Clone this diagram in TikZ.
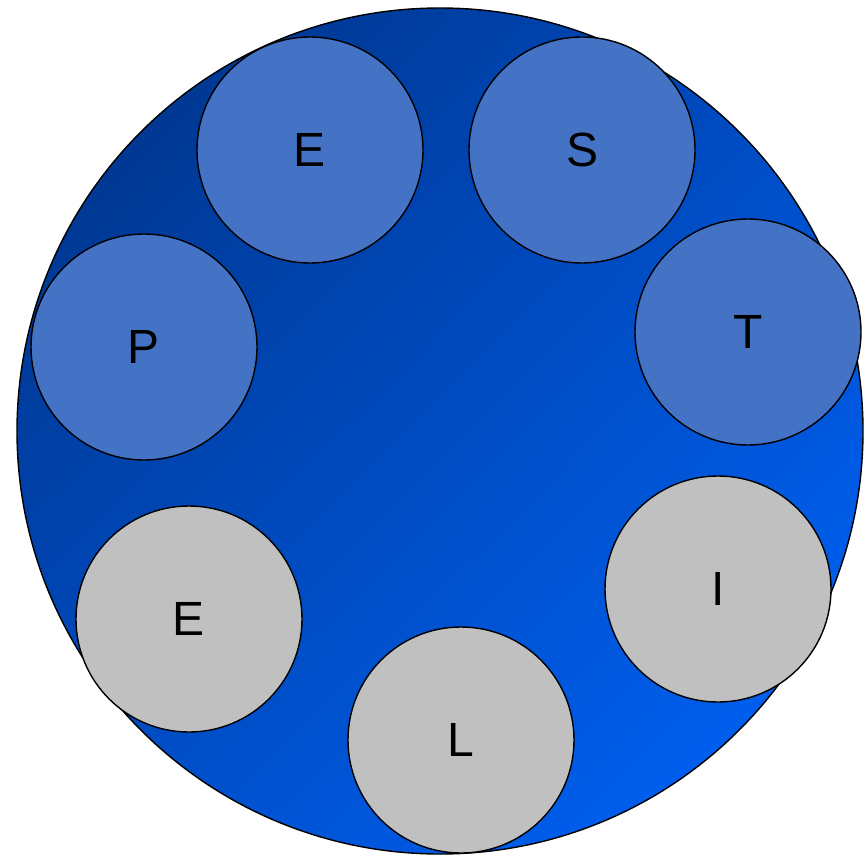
\documentclass[tikz,border=0pt]{standalone}
\usepackage{fontspec}
\setmainfont{Liberation Sans}
\usepackage{xcolor}
\usepackage{tikz}
\usetikzlibrary{shadings}
\definecolor{RingDark}{HTML}{00307F}
\definecolor{RingMid}{HTML}{004CC4}
\definecolor{RingBright}{HTML}{0066FF}
\definecolor{LetterBlue}{HTML}{4472C4}
\definecolor{LetterGray}{HTML}{C0C0C0}
\tikzset{letter/.style={circle,draw,line width=1.4pt,minimum size=226pt,inner sep=0pt,font=\fontsize{48}{48}\selectfont}}

\begin{document}
\begin{tikzpicture}[x=1pt,y=-1pt]
\useasboundingbox (0,0) rectangle (866,856);
\shade[draw,line width=1.4pt,upper left=RingDark,upper right=RingMid,lower left=RingMid,lower right=RingBright] (440,431) circle (423);
\foreach \nm/\x/\y/\lab in {e1/310/150/E,s/582/150/S,t/748/332/T,p/144/347/P}{\node[letter,fill=LetterBlue] (\nm) at (\x,\y) {\lab};}
\foreach \nm/\x/\y/\lab in {i/718/589/I,l/461/740/L,e2/189/619/E}{\node[letter,fill=LetterGray] (\nm) at (\x,\y) {\lab};}
\end{tikzpicture}
\end{document}
